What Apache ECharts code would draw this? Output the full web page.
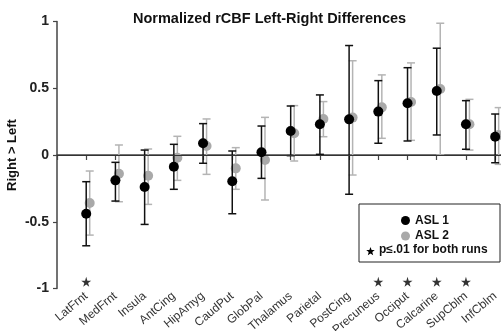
<!DOCTYPE html>
<html>
<head>
<meta charset="utf-8">
<script src="https://cdn.jsdelivr.net/npm/echarts@6/dist/echarts.min.js"></script>
<style>
  html, body { margin: 0; padding: 0; background: #fff; }
  #chart { width: 501px; height: 331px; }
</style>
</head>
<body>
<div id="chart"></div>
<script>
// 脑区
const categories = ['LatFrnt', 'MedFrnt', 'Insula', 'AntCing', 'HipAmyg', 'CaudPut', 'GlobPal', 'Thalamus',
  'Parietal', 'PostCing', 'Precuneus', 'Occiput', 'Calcarine', 'SupCblm', 'InfCblm'];

// ASL 1: mean, lower, upper
const asl1Mean = [-0.44, -0.19, -0.24, -0.088, 0.088, -0.197, 0.02, 0.18, 0.23, 0.267, 0.325, 0.387, 0.48, 0.23, 0.137];
const asl1Low = [-0.68, -0.345, -0.52, -0.257, -0.062, -0.44, -0.175, -0.005, 0.005, -0.294, 0.088, 0.105, 0.15, 0.043, -0.058];
const asl1High = [-0.20, -0.055, 0.037, 0.08, 0.235, 0.03, 0.217, 0.367, 0.45, 0.82, 0.557, 0.654, 0.80, 0.407, 0.307];

// ASL 2: mean, lower, upper
const asl2Mean = [-0.36, -0.14, -0.155, -0.02, 0.067, -0.1, -0.037, 0.163, 0.27, 0.28, 0.357, 0.397, 0.494, 0.23, 0.15];
const asl2Low = [-0.60, -0.35, -0.37, -0.19, -0.145, -0.257, -0.337, -0.045, 0.137, -0.15, 0.125, 0.11, 0.0, 0.037, -0.07];
const asl2High = [-0.12, 0.075, 0.045, 0.14, 0.27, 0.055, 0.282, 0.37, 0.40, 0.706, 0.6, 0.69, 0.987, 0.417, 0.355];

// p<=.01 for both runs
const starred = ['LatFrnt', 'Precuneus', 'Occiput', 'Calcarine', 'SupCblm'];
const starLevel = -0.95;

const yTicks = [-1, -0.5, 0, 0.5, 1];

const FONT = "'Liberation Sans', Arial, sans-serif";
const GRAY = '#a9a9a9';
const OFFSET2 = 0.12; // ASL 2 稍微右移
const STAR = 'path://M50,0 L61,35 L98,35 L68,57 L79,91 L50,70 L21,91 L32,57 L2,35 L39,35 Z';

const pos = (name) => categories.indexOf(name) + 1;

function errorBars(low, high, off) {
  return categories.map((c, i) => [i + 1 + off, low[i], high[i]]);
}

function renderBar(color) {
  return function (params, api) {
    const x = api.value(0);
    const lo = api.coord([x, api.value(1)]);
    const hi = api.coord([x, api.value(2)]);
    const half = 4;
    const style = { stroke: color, lineWidth: 1.5 };
    return {
      type: 'group',
      children: [
        { type: 'line', shape: { x1: lo[0], y1: lo[1], x2: hi[0], y2: hi[1] }, style },
        { type: 'line', shape: { x1: hi[0] - half, y1: hi[1], x2: hi[0] + half, y2: hi[1] }, style },
        { type: 'line', shape: { x1: lo[0] - half, y1: lo[1], x2: lo[0] + half, y2: lo[1] }, style },
      ],
    };
  };
}

// 图例里的小星星
function starPoints(cx, cy, r) {
  const pts = [];
  for (let k = 0; k < 10; k++) {
    const rr = k % 2 === 0 ? r : r * 0.42;
    const a = -Math.PI / 2 + k * Math.PI / 5;
    pts.push([cx + rr * Math.cos(a), cy + rr * Math.sin(a)]);
  }
  return pts;
}

const myChart = echarts.init(document.getElementById('chart'));

const option = {
  animation: false,
  title: {
    text: 'Normalized rCBF Left-Right Differences',
    left: 128,
    top: 6,
    textStyle: { fontFamily: FONT, fontSize: 14.5, fontWeight: 'bold', color: '#111' },
  },
  grid: { left: 57, right: 0, top: 21.5, bottom: 42.5, outerBoundsMode: 'none' },
  xAxis: {
    type: 'value',
    min: 0,
    max: 15.2,
    interval: 1,
    axisLine: { lineStyle: { color: '#444', width: 1.5 } },
    axisTick: { show: true, length: 5, lineStyle: { color: '#444', width: 1.2 } },
    splitLine: { show: false },
    axisLabel: {
      rotate: 40,
      margin: 6,
      fontFamily: FONT,
      fontSize: 12,
      color: '#333',
      showMaxLabel: false,
      formatter: function (v) {
        return Number.isInteger(v) && v >= 1 && v <= categories.length ? categories[v - 1] : '';
      },
    },
  },
  yAxis: {
    type: 'value',
    min: yTicks[0],
    max: yTicks[yTicks.length - 1],
    interval: 0.5,
    name: 'Right > Left',
    nameLocation: 'middle',
    nameGap: 38,
    nameMoveOverlap: false,
    nameTextStyle: { fontFamily: FONT, fontSize: 13, fontWeight: 'bold', color: '#111' },
    axisLine: { show: true, lineStyle: { color: '#444', width: 1.5 } },
    axisTick: { show: true, length: 4, lineStyle: { color: '#444', width: 1.2 } },
    splitLine: { show: false },
    axisLabel: { margin: 8, fontFamily: FONT, fontSize: 14, fontWeight: 'bold', color: '#222' },
  },
  series: [
    {
      type: 'custom',
      name: 'ASL 2 err',
      renderItem: renderBar('#b4b4b4'),
      data: errorBars(asl2Low, asl2High, OFFSET2),
      encode: { x: 0, y: [1, 2] },
      z: 2,
    },
    {
      type: 'scatter',
      name: 'ASL 2',
      symbolSize: 10,
      itemStyle: { color: GRAY, opacity: 1 },
      data: asl2Mean.map((v, i) => [i + 1 + OFFSET2, v]),
      z: 3,
    },
    {
      type: 'custom',
      name: 'ASL 1 err',
      renderItem: renderBar('#111'),
      data: errorBars(asl1Low, asl1High, 0),
      encode: { x: 0, y: [1, 2] },
      z: 4,
    },
    {
      type: 'scatter',
      name: 'ASL 1',
      symbolSize: 10,
      itemStyle: { color: '#000', opacity: 1 },
      data: asl1Mean.map((v, i) => [i + 1, v]),
      z: 5,
      markLine: {
        silent: true,
        symbol: 'none',
        label: { show: false },
        lineStyle: { color: '#333', width: 1, type: 'solid' },
        data: [{ yAxis: 0 }],
      },
    },
    {
      type: 'scatter',
      name: 'stars',
      symbol: STAR,
      symbolSize: 10,
      itemStyle: { color: '#000' },
      data: starred.map((c) => [pos(c), starLevel]),
      z: 5,
    },
  ],
  graphic: [
    {
      type: 'group',
      z: 100,
      children: [
        { type: 'rect', shape: { x: 359, y: 204, width: 141, height: 58 }, style: { fill: '#fff', stroke: '#222', lineWidth: 1 } },
        { type: 'circle', shape: { cx: 405.5, cy: 220.5, r: 4.5 }, style: { fill: '#000' } },
        { type: 'text', style: { x: 415, y: 220.5, text: 'ASL 1', verticalAlign: 'middle', font: 'bold 12px ' + FONT, fill: '#111' } },
        { type: 'circle', shape: { cx: 405.5, cy: 236, r: 4.5 }, style: { fill: GRAY } },
        { type: 'text', style: { x: 415, y: 236, text: 'ASL 2', verticalAlign: 'middle', font: 'bold 12px ' + FONT, fill: '#111' } },
        { type: 'polygon', shape: { points: starPoints(370.5, 251.5, 4.5) }, style: { fill: '#000' } },
        { type: 'text', style: { x: 379, y: 250, text: 'p≤.01 for both runs', verticalAlign: 'middle', font: 'bold 12px ' + FONT, fill: '#111' } },
      ],
    },
  ],
};

myChart.setOption(option);
</script>
</body>
</html>
